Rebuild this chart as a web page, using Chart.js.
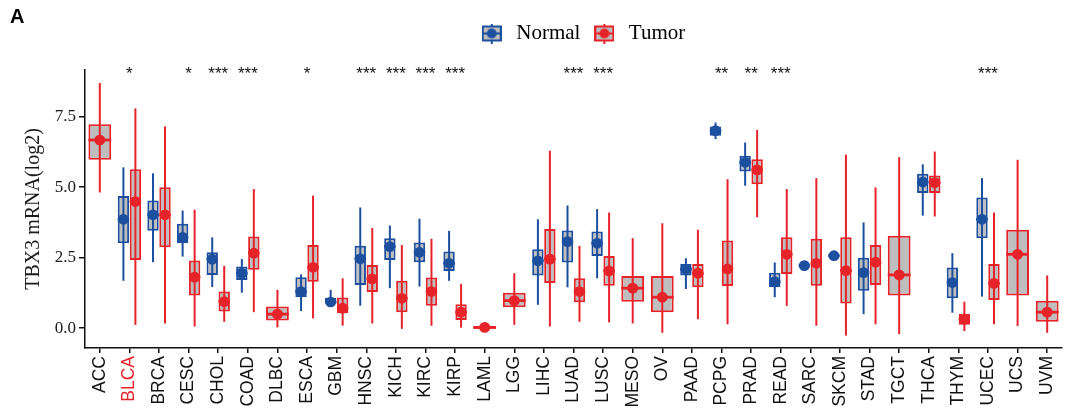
<!DOCTYPE html>
<html>
<head>
<meta charset="utf-8">
<script src="https://cdn.jsdelivr.net/npm/chart.js@4.4.1/dist/chart.umd.min.js"></script>
<style>
    html, body { margin: 0; padding: 0; background: #fff; }
    #wrap { position: relative; width: 1086px; height: 419px; }
    #panelTag { position: absolute; left: 10px; top: 5px; font: bold 20px "Liberation Sans", Arial, sans-serif; color: #000; }
</style>
</head>
<body>
<div id="wrap">
    <canvas id="boxChart" width="1086" height="419"></canvas>
    <div id="panelTag">A</div>
</div>
<script>
// ==========================
// DATA
// ==========================

const cancers = ['ACC', 'BLCA', 'BRCA', 'CESC', 'CHOL', 'COAD', 'DLBC', 'ESCA', 'GBM', 'HNSC', 'KICH',
    'KIRC', 'KIRP', 'LAML', 'LGG', 'LIHC', 'LUAD', 'LUSC', 'MESO', 'OV', 'PAAD', 'PCPG', 'PRAD',
    'READ', 'SARC', 'SKCM', 'STAD', 'TGCT', 'THCA', 'THYM', 'UCEC', 'UCS', 'UVM'];

const highlighted = 'BLCA';

const stars = ['', '*', '', '*', '***', '***', '', '*', '', '***', '***', '***', '***', '', '', '',
    '***', '***', '', '', '', '**', '**', '***', '', '', '', '', '', '', '***', '', ''];

// [min, q1, median, q3, max] per cancer, null where the group is missing
const normalStats = [
    null,
    [1.68, 3.01, 3.86, 4.69, 5.70],
    [2.34, 3.45, 4.02, 4.53, 5.49],
    [2.54, 3.01, 3.22, 3.70, 4.17],
    [1.46, 1.89, 2.45, 2.69, 3.22],
    [1.26, 1.71, 1.95, 2.19, 2.45],
    null,
    [0.61, 1.10, 1.30, 1.81, 1.91],
    [0.82, 0.88, 0.93, 1.08, 1.36],
    [0.80, 1.53, 2.46, 2.92, 4.28],
    [1.42, 2.42, 2.89, 3.19, 3.64],
    [1.48, 2.34, 2.69, 3.04, 3.88],
    [1.68, 2.03, 2.30, 2.72, 3.45],
    null,
    null,
    [0.83, 1.87, 2.39, 2.80, 3.86],
    [1.45, 2.33, 3.07, 3.46, 4.35],
    [1.77, 2.56, 3.01, 3.43, 4.22],
    null,
    null,
    [1.39, 1.87, 2.09, 2.28, 2.48],
    [6.70, 6.82, 7.00, 7.15, 7.29],
    [5.05, 5.55, 5.88, 6.11, 6.58],
    [1.10, 1.45, 1.65, 1.97, 2.33],
    [2.22, 2.22, 2.22, 2.22, 2.22],
    [2.57, 2.57, 2.57, 2.57, 2.57],
    [0.50, 1.33, 1.97, 2.50, 3.75],
    null,
    [3.99, 4.79, 5.18, 5.47, 5.81],
    [0.55, 1.06, 1.62, 2.15, 2.66],
    [1.12, 3.19, 3.86, 4.63, 5.32],
    null,
    null
];

const tumorStats = [
    [4.81, 5.97, 6.67, 7.23, 8.69],
    [0.12, 2.42, 4.49, 5.63, 7.79],
    [0.17, 2.87, 4.02, 5.00, 7.15],
    [0.06, 1.16, 1.81, 2.40, 4.20],
    [0.23, 0.59, 0.94, 1.30, 2.21],
    [0.57, 2.07, 2.66, 3.25, 4.93],
    [0.03, 0.27, 0.50, 0.77, 1.36],
    [0.35, 1.65, 2.16, 2.95, 4.70],
    [0.09, 0.53, 0.71, 1.09, 1.77],
    [0.17, 1.28, 1.75, 2.24, 3.55],
    [-0.02, 0.57, 1.06, 1.68, 2.95],
    [0.09, 0.80, 1.30, 1.80, 3.17],
    [0.02, 0.29, 0.57, 0.85, 1.57],
    [-0.04, -0.02, 0.03, 0.06, 0.08],
    [0.12, 0.74, 0.98, 1.26, 1.95],
    [0.06, 1.60, 2.45, 3.52, 6.29],
    [0.23, 0.92, 1.30, 1.77, 2.92],
    [0.21, 1.51, 2.03, 2.56, 4.10],
    [0.17, 0.94, 1.42, 1.85, 3.19],
    [-0.16, 0.57, 1.10, 1.85, 3.72],
    [0.32, 1.45, 1.95, 2.28, 3.49],
    [0.14, 1.50, 2.10, 3.11, 5.28],
    [3.93, 5.10, 5.61, 5.99, 7.03],
    [0.79, 1.92, 2.62, 3.22, 4.93],
    [0.09, 1.51, 2.30, 3.17, 5.32],
    [-0.26, 0.88, 2.04, 3.22, 6.15],
    [0.14, 1.53, 2.34, 2.95, 4.99],
    [-0.21, 1.16, 1.89, 3.28, 6.06],
    [3.96, 4.79, 5.16, 5.41, 6.26],
    [-0.10, 0.12, 0.32, 0.51, 0.94],
    [0.14, 1.00, 1.59, 2.28, 4.10],
    [0.08, 1.16, 2.62, 3.49, 5.97],
    [-0.16, 0.23, 0.57, 0.97, 1.87]
];

const yTicks = [0, 2.5, 5, 7.5];
const yTickLabels = ['0.0', '2.5', '5.0', '7.5'];
const starLevel = 9.13;

// ==========================
// STYLE
// ==========================

const serif = '"Liberation Serif", "Times New Roman", serif';
const sans = '"Liberation Sans", Arial, sans-serif';
const boxFill = '#bebebe';
const groups = [
    { name: 'Normal', stats: normalStats, color: '#1d4f9f' },
    { name: 'Tumor', stats: tumorStats, color: '#e7232a' }
];
const dotHalf = 0.19;     // half height of the dot, in y units
const medianHalf = 0.05;  // half thickness of the median bar

function legendIcon(color) {
    const c = document.createElement('canvas');
    c.width = 20;
    c.height = 20;
    const g = c.getContext('2d');
    g.fillStyle = color;
    g.fillRect(9, 0, 2, 20);
    g.fillStyle = boxFill;
    g.fillRect(1, 3, 18, 14);
    g.strokeStyle = color;
    g.lineWidth = 2;
    g.strokeRect(1, 3, 18, 14);
    g.fillStyle = color;
    g.fillRect(1, 9, 18, 2);
    g.beginPath();
    g.arc(10, 10, 5, 0, Math.PI * 2);
    g.fill();
    return c;
}

function pick(stats, fn) {
    return stats.map(s => s ? fn(s) : null);
}

// ==========================
// DATASETS (one stack per group so box, whisker and dot share a slot)
// ==========================

const datasets = [];
groups.forEach(g => {
    const common = {
        stack: g.name,
        skipNull: true,
        categoryPercentage: 0.81,
        barPercentage: 0.95,
        borderSkipped: false
    };
    datasets.push({ ...common, label: g.name + ' dot', data: pick(g.stats, s => [s[2] - dotHalf, s[2] + dotHalf]),
        backgroundColor: g.color, maxBarThickness: 11, borderRadius: 10 });
    datasets.push({ ...common, label: g.name + ' median', data: pick(g.stats, s => [s[2] - medianHalf, s[2] + medianHalf]),
        backgroundColor: g.color });
    datasets.push({ ...common, label: g.name + ' whisker', data: pick(g.stats, s => [s[0], s[4]]),
        backgroundColor: g.color, maxBarThickness: 2 });
    datasets.push({ ...common, label: g.name, data: pick(g.stats, s => [s[1], s[3]]),
        backgroundColor: boxFill, borderColor: g.color, borderWidth: 2 });
});

// ==========================
// PLUGINS
// ==========================

const legendSpace = {
    id: 'legendSpace',
    beforeInit(chart) {
        const fit = chart.legend.fit;
        chart.legend.fit = function () {
            fit.call(this);
            this.height = 70;
        };
    },
    afterLayout(chart) {
        // legend sits a little right of the plot centre and lower in the figure
        chart.legend.left += 8;
        chart.legend.right += 8;
        chart.legend.top += 13;
        chart.legend.bottom += 13;
    }
};

const sigStars = {
    id: 'sigStars',
    afterDatasetsDraw(chart) {
        const { ctx, scales: { x, y } } = chart;
        ctx.save();
        ctx.font = '17px ' + sans;
        ctx.fillStyle = '#111';
        ctx.textAlign = 'center';
        ctx.textBaseline = 'alphabetic';
        stars.forEach((s, i) => {
            if (s) ctx.fillText(s, x.getPixelForValue(i), y.getPixelForValue(starLevel) + 8);
        });
        ctx.restore();
    }
};

// ==========================
// CHART
// ==========================

const icons = groups.map(g => legendIcon(g.color));

new Chart(document.getElementById('boxChart').getContext('2d'), {
    type: 'bar',
    data: { labels: cancers, datasets: datasets },
    options: {
        responsive: false,
        animation: false,
        events: [],
        layout: { padding: { left: 0, right: 24, top: 0, bottom: 0 } },
        plugins: {
            tooltip: { enabled: false },
            legend: {
                position: 'top',
                fullSize: false,
                labels: {
                    usePointStyle: true,
                    pointStyleWidth: 28,
                    boxWidth: 20,
                    boxHeight: 20,
                    padding: 10,
                    color: '#111',
                    font: { family: serif, size: 21 },
                    generateLabels: () => groups.map((g, i) => ({
                        text: g.name,
                        pointStyle: icons[i],
                        fillStyle: g.color,
                        strokeStyle: g.color,
                        lineWidth: 0,
                        hidden: false,
                        datasetIndex: i
                    }))
                }
            }
        },
        scales: {
            x: {
                offset: true,
                grid: { display: true, drawOnChartArea: false, offset: false, tickLength: 5, color: '#111', lineWidth: 1.5 },
                border: { color: '#111', width: 1.5 },
                ticks: {
                    autoSkip: false,
                    maxRotation: 90,
                    minRotation: 90,
                    padding: 3,
                    font: { family: sans, size: 17.5 },
                    color: ctx => cancers[ctx.index] === highlighted ? '#e7232a' : '#111'
                },
                afterFit: s => { s.height = 71; }
            },
            y: {
                stacked: false,
                min: -0.7,
                max: 9.15,
                grid: { display: true, drawOnChartArea: false, tickLength: 6, color: '#111', lineWidth: 1.5 },
                border: { color: '#111', width: 1.5 },
                afterBuildTicks: s => { s.ticks = yTicks.map(v => ({ value: v })); },
                ticks: {
                    padding: 3,
                    color: '#1a1a1a',
                    font: { family: serif, size: 17 },
                    callback: (v, i) => yTickLabels[i]
                },
                title: {
                    display: true,
                    text: 'TBX3 mRNA(log2)',
                    color: '#1a1a1a',
                    font: { family: serif, size: 20 },
                    padding: { top: 22, bottom: 0 }
                },
                afterFit: s => { s.width = 85; }
            }
        }
    },
    plugins: [legendSpace, sigStars]
});
</script>
</body>
</html>
